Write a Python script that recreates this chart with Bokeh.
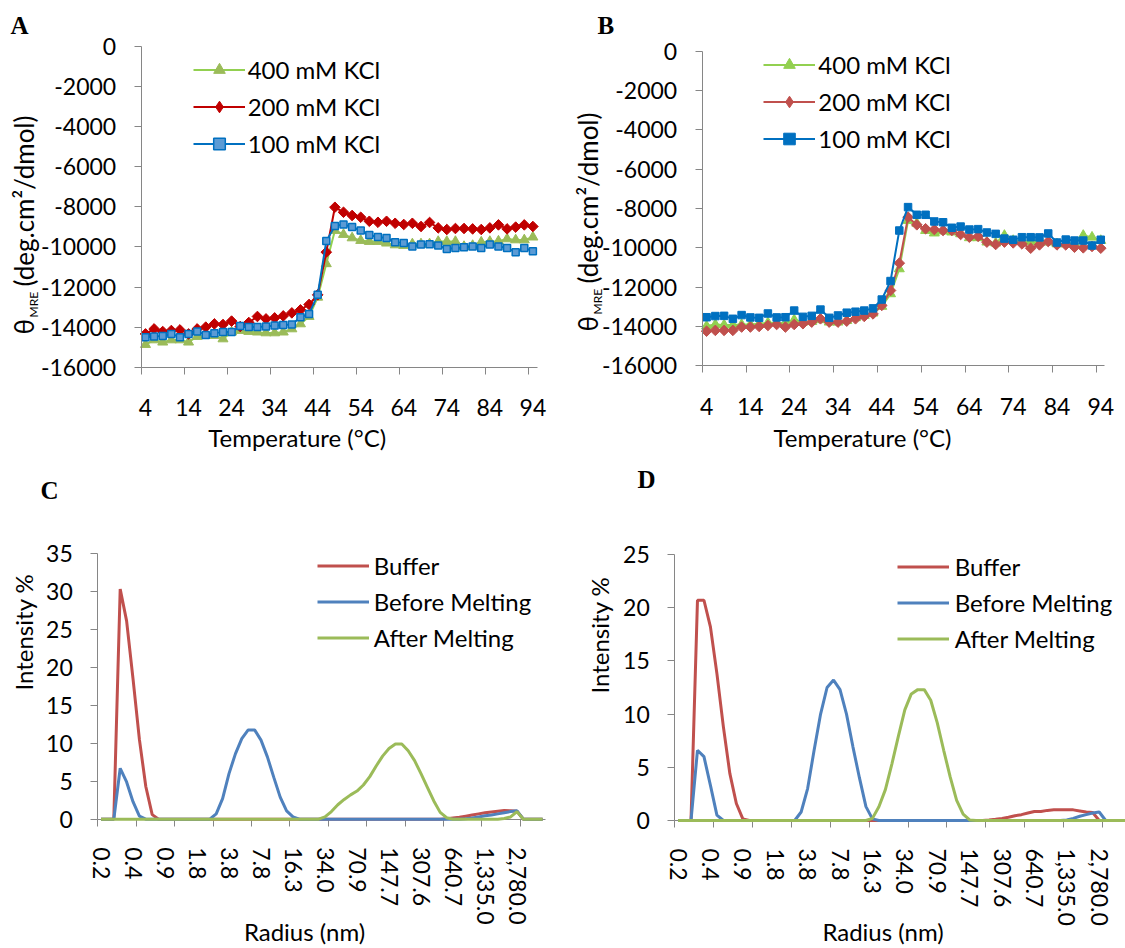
import math
from bokeh.plotting import figure
from bokeh.models import Range1d, FixedTicker, Label, Legend, LegendItem
from bokeh.layouts import column, row
from bokeh.embed import file_html
from bokeh.resources import INLINE

FONT = "Lato"
SERIF = "Liberation Serif"
AXIS_COLOR = "#868686"

# ---------------- data: CD melting (panels A, B) ----------------
temperature = [4, 6, 8, 10, 12, 14, 16, 18, 20, 22, 24, 26, 28, 30, 32, 34, 36, 38, 40, 42, 44, 46,
               48, 50, 52, 54, 56, 58, 60, 62, 64, 66, 68, 70, 72, 74, 76, 78, 80, 82, 84, 86, 88, 90, 92, 94]
temp_labels = [4, 14, 24, 34, 44, 54, 64, 74, 84, 94]
temp_marks = [3, 13, 23, 33, 43, 53, 63, 73, 83, 93]
theta_ticks = [0, -2000, -4000, -6000, -8000, -10000, -12000, -14000, -16000]

a_400 = [-14870, -14640, -14750, -14640, -14640, -14750, -14470, -14420, -14420, -14590,
         -14250, -14170, -14220, -14250, -14290, -14290, -14250, -14090, -13840, -13470,
         -12510, -10840, -9180, -9380, -9550, -9680, -9730, -9730, -9810, -9900,
         -9930, -9850, -9850, -9850, -9730, -9730, -9730, -9980, -9930, -9760,
         -9730, -9710, -9600, -9650, -9650, -9510]
a_200 = [-14340, -14090, -14220, -14170, -14140, -14340, -14090, -14000, -13840, -13870,
         -13700, -13970, -13770, -13470, -13590, -13540, -13440, -13290, -13140, -12870,
         -12390, -10260, -8020, -8270, -8430, -8520, -8720, -8770, -8720, -8820,
         -8880, -8820, -8980, -8780, -9050, -9130, -9080, -9080, -9100, -9130,
         -9050, -8900, -9100, -9010, -8900, -8980]
a_100 = [-14500, -14470, -14440, -14340, -14500, -14340, -14220, -14390, -14300, -14250,
         -14250, -13950, -14000, -14000, -13970, -13920, -13890, -13870, -13510, -13340,
         -12390, -9710, -8960, -8880, -9010, -9180, -9400, -9510, -9550, -9760,
         -9800, -9980, -9880, -9860, -9930, -10100, -10050, -10010, -9980, -10050,
         -9880, -9980, -10050, -10260, -10050, -10210]

b_400 = [-13980, -13900, -13920, -13930, -13900, -13900, -13860, -13810, -13810, -13830,
         -13660, -13780, -13750, -13660, -13780, -13780, -13700, -13560, -13440, -13320,
         -12980, -12340, -11070, -8610, -8750, -9120, -9250, -9150, -9200, -9290,
         -9490, -9490, -9710, -9760, -9370, -9630, -9660, -9680, -9590, -9710,
         -9800, -9800, -9760, -9370, -9460, -9630]
b_200 = [-14240, -14200, -14200, -14200, -14030, -14030, -14000, -13950, -13900, -14030,
         -13900, -13860, -13780, -13610, -13780, -13780, -13730, -13610, -13490, -13360,
         -12930, -12170, -10780, -8440, -8830, -9030, -9070, -9120, -9120, -9320,
         -9460, -9420, -9710, -9830, -9710, -9750, -9800, -10020, -9850, -9680,
         -9850, -9850, -9970, -10000, -9930, -10020]
b_100 = [-13530, -13470, -13460, -13610, -13420, -13540, -13560, -13340, -13540, -13530,
         -13190, -13510, -13460, -13140, -13560, -13440, -13300, -13250, -13190, -13080,
         -12630, -11690, -9120, -7930, -8320, -8320, -8660, -8700, -8980, -8920,
         -9070, -9050, -9220, -9290, -9530, -9590, -9460, -9460, -9470, -9270,
         -9730, -9580, -9630, -9630, -9880, -9590]

# ---------------- data: DLS size distributions (panels C, D) ----------------
size_bin = list(range(70))
radius_labels = ["0.2", "0.4", "0.9", "1.8", "3.8", "7.8", "16.3", "34.0", "70.9",
                 "147.7", "307.6", "640.7", "1,335.0", "2,780.0"]
radius_label_bins = [0, 5, 10, 15, 20, 25, 30, 35, 40, 45, 50, 55, 60, 65]
radius_tick_bins = [-0.5, 5.5, 11.5, 17.5, 23.5, 29.5, 35.5, 41.5, 47.5, 53.5, 59.5, 65.5]
c_ticks = [0, 5, 10, 15, 20, 25, 30, 35]
d_ticks = [0, 5, 10, 15, 20, 25]

c_buffer = [0, 0, 0, 30.3, 26.1, 18.5, 10.5, 4.3, 0.6, 0,
            0, 0, 0, 0, 0, 0, 0, 0, 0, 0,
            0, 0, 0, 0, 0, 0, 0, 0, 0, 0,
            0, 0, 0, 0, 0, 0, 0, 0, 0, 0,
            0, 0, 0, 0, 0, 0, 0, 0, 0, 0,
            0, 0, 0, 0, 0.05, 0.15, 0.25, 0.4, 0.55, 0.7,
            0.85, 0.95, 1.05, 1.15, 1.1, 1.05, 0, 0, 0, 0]
c_before = [0, 0, 0, 6.7, 4.9, 2.3, 0.4, 0, 0, 0,
            0, 0, 0, 0, 0, 0, 0, 0, 0.7, 2.7,
            6.0, 8.6, 10.6, 11.75, 11.75, 10.4, 8.2, 5.5, 2.9, 1.1,
            0.3, 0, 0, 0, 0, 0, 0, 0, 0, 0,
            0, 0, 0, 0, 0, 0, 0, 0, 0, 0,
            0, 0, 0, 0, 0, 0, 0, 0.05, 0.15, 0.3,
            0.45, 0.55, 0.7, 0.85, 1.0, 1.1, 0, 0, 0, 0]
c_after = [0, 0, 0, 0, 0, 0, 0, 0, 0, 0,
           0, 0, 0, 0, 0, 0, 0, 0, 0, 0,
           0, 0, 0, 0, 0, 0, 0, 0, 0, 0,
           0, 0, 0, 0, 0, 0.3, 1.0, 1.9, 2.6, 3.2,
           3.7, 4.5, 5.6, 7.0, 8.3, 9.3, 9.9, 9.9, 9.0, 7.7,
           6.0, 4.2, 2.4, 0.9, 0.2, 0, 0, 0, 0, 0,
           0, 0, 0, 0.1, 0.3, 1.0, 0, 0, 0, 0]

d_buffer = [0, 0, 0, 20.7, 20.7, 18.2, 13.8, 8.8, 4.4, 1.6,
            0.15, 0, 0, 0, 0, 0, 0, 0, 0, 0,
            0, 0, 0, 0, 0, 0, 0, 0, 0, 0,
            0, 0, 0, 0, 0, 0, 0, 0, 0, 0,
            0, 0, 0, 0, 0, 0, 0, 0, 0.05, 0.12,
            0.2, 0.3, 0.45, 0.55, 0.7, 0.85, 0.85, 0.95, 1.0, 1.0,
            1.0, 1.0, 0.9, 0.8, 0.75, 0, 0, 0, 0, 0]
d_before = [0, 0, 0, 6.6, 6.0, 3.3, 0.5, 0, 0, 0,
            0, 0, 0, 0, 0, 0, 0, 0, 0, 0.8,
            3.0, 6.6, 10.0, 12.5, 13.2, 12.3, 10.0, 6.9, 4.0, 1.3,
            0.15, 0, 0, 0, 0, 0, 0, 0, 0, 0,
            0, 0, 0, 0, 0, 0, 0, 0, 0, 0,
            0, 0, 0, 0, 0, 0, 0, 0, 0, 0,
            0.05, 0.2, 0.4, 0.55, 0.7, 0.8, 0, 0, 0, 0]
d_after = [0, 0, 0, 0, 0, 0, 0, 0, 0, 0,
           0, 0, 0, 0, 0, 0, 0, 0, 0, 0,
           0, 0, 0, 0, 0, 0, 0, 0, 0, 0,
           0.2, 1.3, 2.9, 5.3, 7.9, 10.4, 11.9, 12.3, 12.3, 11.3,
           9.2, 6.6, 4.1, 1.9, 0.6, 0.05, 0, 0, 0, 0,
           0, 0, 0, 0, 0, 0, 0, 0, 0, 0,
           0, 0, 0, 0, 0, 0, 0, 0, 0, 0]


# ---------------- layout helpers ----------------
def lin(p0, v0, p1, v1):
    k = (v1 - v0) / (p1 - p0)
    return lambda p: v0 + (p - p0) * k


class Panel:
    """A figure whose frame is its whole canvas; page pixels map linearly to data."""

    def __init__(self, cx0, cx1, cy0, cy1, fx, fy, xbounds, ybounds, xloc, yloc):
        self.cx0, self.cy0 = cx0, cy0
        self.fx, self.fy = fx, fy
        p = figure(width=cx1 - cx0, height=cy1 - cy0,
                   x_range=Range1d(fx(cx0), fx(cx1)), y_range=Range1d(fy(cy1), fy(cy0)),
                   output_backend="svg", toolbar_location=None, title=None,
                   min_border=0, min_border_left=0, min_border_right=0,
                   min_border_top=0, min_border_bottom=0)
        p.outline_line_color = None
        p.xgrid.visible = False
        p.ygrid.visible = False
        p.background_fill_color = "white"
        p.border_fill_color = "white"
        for ax in (p.xaxis[0], p.yaxis[0]):
            ax.axis_line_color = AXIS_COLOR
            ax.axis_line_width = 1
            ax.major_tick_line_color = AXIS_COLOR
            ax.minor_tick_line_color = AXIS_COLOR
            ax.major_label_text_font = FONT
            ax.major_label_text_font_size = "23px"
            ax.major_label_text_color = "black"
        xa, ya = p.xaxis[0], p.yaxis[0]
        xa.fixed_location = xloc
        xa.bounds = xbounds
        ya.fixed_location = yloc
        ya.bounds = ybounds
        ya.major_tick_out = 7
        ya.major_tick_in = 0
        ya.minor_tick_out = 0
        ya.minor_tick_in = 0
        ya.major_label_standoff = 18
        xa.major_tick_out = 0
        xa.major_tick_in = 0
        xa.minor_tick_out = 7
        xa.minor_tick_in = 0
        self.p = p

    def text(self, px, py, text, size, angle=0.0, align="left",
             font=FONT, style="normal"):
        # (px, py): page position of the middle line of the text
        self.p.add_layout(Label(x=self.fx(px), y=self.fy(py), text=text, angle=angle,
                                text_align=align, text_baseline="middle", text_font=font,
                                text_font_size=f"{size}px", text_font_style=style,
                                text_color="black"))

    def legend(self, items, glyph_left, top_center, pitch, standoff, bottom_edge):
        h = 29
        spacing = pitch - h
        top = top_center - h / 2
        bottom = top + 3 * h + 2 * spacing
        leg = Legend(items=items, location=(glyph_left - self.cx0, bottom_edge - bottom),
                     orientation="vertical", glyph_width=52, glyph_height=h, label_height=h,
                     spacing=round(spacing), padding=0, margin=0, label_standoff=standoff,
                     background_fill_alpha=0, border_line_alpha=0,
                     inactive_fill_alpha=0,
                     label_text_font=FONT, label_text_font_size="24px",
                     label_text_color="black")
        self.p.add_layout(leg)


UP = math.pi / 2
SPLIT_X, SPLIT_Y, W, H = 560, 465, 1125, 948

# ---------------- Panel A ----------------
A = Panel(0, SPLIT_X, 0, SPLIT_Y, lin(140.7, 3, 536.7, 95), lin(366.7, -16000, 46, 0),
          (3, 95), (-16000, 0), -16000, 3)
pa = A.p
pa.xaxis[0].ticker = FixedTicker(ticks=temp_labels, minor_ticks=temp_marks)
pa.xaxis[0].major_label_standoff = 25
pa.yaxis[0].ticker = FixedTicker(ticks=theta_ticks)
pa.yaxis[0].major_label_overrides = {v: str(v) for v in theta_ticks}

la1 = pa.line(temperature, a_400, line_color="#92D050", line_width=2)
ma1 = pa.scatter(temperature, a_400, marker="triangle", size=10, fill_color="#9BBB59", line_color="#9BBB59")
la2 = pa.line(temperature, a_200, line_color="#C00000", line_width=2)
ma2 = pa.scatter(temperature, a_200, marker="square", angle=math.pi / 4, size=7.5,
                 fill_color="#C00000", line_color="#C00000")
ka2 = pa.scatter(temperature, a_200, marker="diamond", size=11, fill_color="#C00000",
                 line_color="#C00000", visible=False)
la3 = pa.line(temperature, a_100, line_color="#0070C0", line_width=2)
ma3 = pa.scatter(temperature, a_100, marker="square", size=7, fill_color="#5B9BD5",
                 line_color="#0070C0", line_width=1.5)
A.legend([
    LegendItem(label="400 mM KCl", renderers=[la1, ma1]),
    LegendItem(label="200 mM KCl", renderers=[la2, ka2]),
    LegendItem(label="100 mM KCl", renderers=[la3, ma3]),
], 192.7, 70, 36.7, 3, SPLIT_Y)

A.text(10, 24.6, "A", 25, font=SERIF, style="bold")
A.text(23, 334, "θ", 26, angle=UP)
A.text(33, 317, "MRE", 12, angle=UP)
A.text(23, 286, "(deg.cm²/dmol)", 26, angle=UP)
A.text(296.7, 437.4, "Temperature (°C)", 24, align="center")

# ---------------- Panel B ----------------
B = Panel(SPLIT_X, W, 0, SPLIT_Y, lin(701.7, 3, 1095.9, 93), lin(365.3, -16000, 50.7, 0),
          (3, 94.85), (-16000, 0), -16000, 3)
pb = B.p
pb.xaxis[0].ticker = FixedTicker(ticks=temp_labels, minor_ticks=temp_marks)
pb.xaxis[0].major_label_standoff = 25
pb.yaxis[0].ticker = FixedTicker(ticks=theta_ticks)
pb.yaxis[0].major_label_overrides = {v: str(v) for v in theta_ticks}

lb1 = pb.line(temperature, b_400, line_color="#92D050", line_width=2)
mb1 = pb.scatter(temperature, b_400, marker="triangle", size=10, fill_color="#92D050", line_color="#92D050")
lb2 = pb.line(temperature, b_200, line_color="#C0504D", line_width=2)
mb2 = pb.scatter(temperature, b_200, marker="square", angle=math.pi / 4, size=7.5,
                 fill_color="#C0504D", line_color="#C0504D")
kb2 = pb.scatter(temperature, b_200, marker="diamond", size=11, fill_color="#C0504D",
                 line_color="#C0504D", visible=False)
lb3 = pb.line(temperature, b_100, line_color="#0070C0", line_width=2)
mb3 = pb.scatter(temperature, b_100, marker="square", size=7.5, fill_color="#0070C0", line_color="#0070C0")
B.legend([
    LegendItem(label="400 mM KCl", renderers=[lb1, mb1]),
    LegendItem(label="200 mM KCl", renderers=[lb2, kb2]),
    LegendItem(label="100 mM KCl", renderers=[lb3, mb3]),
], 763.3, 65, 36.7, 3, SPLIT_Y)

B.text(597, 24.6, "B", 25, font=SERIF, style="bold")
B.text(587, 331, "θ", 26, angle=UP)
B.text(597, 314, "MRE", 12, angle=UP)
B.text(587, 283, "(deg.cm²/dmol)", 26, angle=UP)
B.text(862, 437.4, "Temperature (°C)", 24, align="center")

# ---------------- Panel C ----------------
C = Panel(0, SPLIT_X, SPLIT_Y, H, lin(97.3, -0.5, 545.3, 69.5), lin(818.7, 0, 552.7, 35),
          (-0.5, 69.5), (0, 35), 0, -0.5)
pc = C.p
pc.xaxis[0].ticker = FixedTicker(ticks=radius_label_bins, minor_ticks=radius_tick_bins)
pc.xaxis[0].major_label_overrides = dict(zip(radius_label_bins, radius_labels))
pc.xaxis[0].major_label_orientation = "vertical"
pc.xaxis[0].major_label_standoff = 21
pc.yaxis[0].ticker = FixedTicker(ticks=c_ticks)

lc1 = pc.line(size_bin, c_buffer, line_color="#C0504D", line_width=3, level="overlay")
lc2 = pc.line(size_bin, c_before, line_color="#4F81BD", line_width=3, level="overlay")
lc3 = pc.line(size_bin, c_after, line_color="#9BBB59", line_width=3, level="overlay")
C.legend([
    LegendItem(label="Buffer", renderers=[lc1]),
    LegendItem(label="Before Melting", renderers=[lc2]),
    LegendItem(label="After Melting", renderers=[lc3]),
], 316.7, 565, 36.2, 5, H)

C.text(40, 489.6, "C", 25, font=SERIF, style="bold")
C.text(22.7, 690, "Intensity %", 24, angle=UP)
C.text(304, 930.7, "Radius (nm)", 24, align="center")

# ---------------- Panel D ----------------
D = Panel(SPLIT_X, W, SPLIT_Y, H, lin(674.3, -0.5, 1098.7, 65), lin(820, 0, 554, 25),
          (-0.5, 69.5), (0, 25), 0, -0.5)
pd = D.p
pd.xaxis[0].ticker = FixedTicker(ticks=radius_label_bins, minor_ticks=radius_tick_bins)
pd.xaxis[0].major_label_overrides = dict(zip(radius_label_bins, radius_labels))
pd.xaxis[0].major_label_orientation = "vertical"
pd.xaxis[0].major_label_standoff = 21
pd.yaxis[0].ticker = FixedTicker(ticks=d_ticks)

ld1 = pd.line(size_bin, d_buffer, line_color="#C0504D", line_width=3, level="overlay")
ld2 = pd.line(size_bin, d_before, line_color="#4F81BD", line_width=3, level="overlay")
ld3 = pd.line(size_bin, d_after, line_color="#9BBB59", line_width=3, level="overlay")
D.legend([
    LegendItem(label="Buffer", renderers=[ld1]),
    LegendItem(label="Before Melting", renderers=[ld2]),
    LegendItem(label="After Melting", renderers=[ld3]),
], 896.7, 566.7, 35.8, 6, H)

D.text(637, 478.6, "D", 25, font=SERIF, style="bold")
D.text(598.7, 693, "Intensity %", 24, angle=UP)
D.text(882.5, 930.7, "Radius (nm)", 24, align="center")

layout = column(row(pa, pb), row(pc, pd))

with open("out.html", "w") as fh:
    fh.write(file_html(layout, INLINE))
